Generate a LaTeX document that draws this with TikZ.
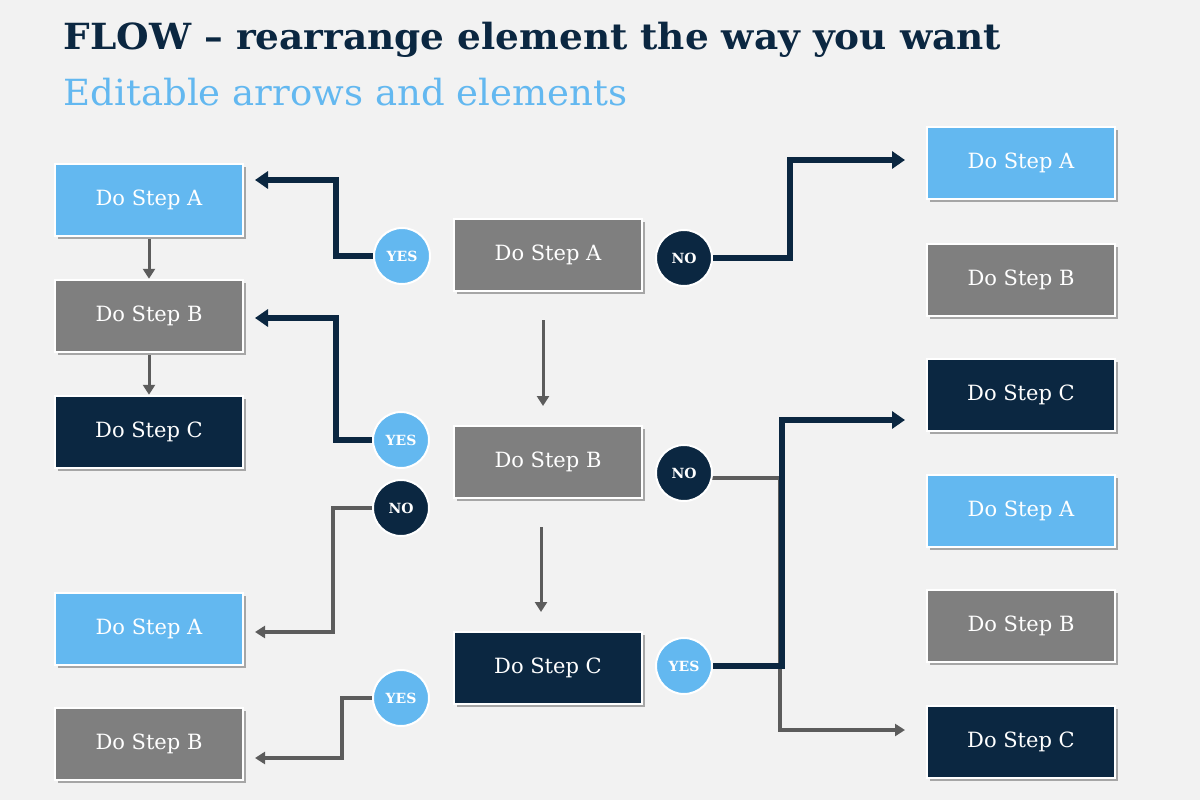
\documentclass[tikz,border=0pt]{standalone}
\usepackage{fontspec}
\setmainfont{DejaVu Serif}
\usetikzlibrary{arrows.meta,shadows,backgrounds}
\definecolor{lb}{HTML}{63B8F0}
\definecolor{gr}{HTML}{7F7F7F}
\definecolor{dk}{HTML}{0B2741}
\definecolor{lg}{HTML}{5C5C5C}
\begin{document}
\begin{tikzpicture}[x=1pt,y=-1pt,
 box/.style={draw=white,line width=2.5pt,minimum width=188pt,minimum height=72pt,text=white,font=\fontsize{21}{25}\selectfont,
   drop shadow={shadow xshift=3pt,shadow yshift=-3pt,fill=black!35,opacity=1}},
 bl/.style={box,fill=lb}, bg/.style={box,fill=gr}, bd/.style={box,fill=dk},
 circ/.style={circle,draw=white,line width=2pt,minimum size=56pt,inner sep=0pt,text=white,font=\bfseries\fontsize{14}{16}\selectfont},
 cy/.style={circ,fill=lb}, cn/.style={circ,fill=dk},
 da/.style={draw=dk,line width=5.5pt,-{Triangle[length=13pt,width=17pt]}},
 ga/.style={draw=lg,line width=3.5pt,-{Triangle[length=10pt,width=12pt]}},
 ga2/.style={draw=lg,line width=3pt,-{Triangle[length=10pt,width=12pt]}}]
\useasboundingbox (0,0) rectangle (1200,800);
\node[anchor=west,text=dk,font=\bfseries\fontsize{36}{42}\selectfont,xscale=1.04] (t) at (60,40) {FLOW – rearrange element the way you want};
\node[anchor=west,text=lb,font=\fontsize{36}{42}\selectfont,xscale=1.03] (s) at (60,92) {Editable arrows and elements};
% left
\node[bl] (l1) at (149,200) {Do Step A};
\node[bg] (l2) at (149,316) {Do Step B};
\node[bd] (l3) at (149,432) {Do Step C};
\node[bl] (l4) at (149,629) {Do Step A};
\node[bg] (l5) at (149,744) {Do Step B};
% middle
\node[bg] (m1) at (548,255) {Do Step A};
\node[bg] (m2) at (548,462) {Do Step B};
\node[bd] (m3) at (548,668) {Do Step C};
% right
\node[bl] (r1) at (1021,163) {Do Step A};
\node[bg] (r2) at (1021,280) {Do Step B};
\node[bd] (r3) at (1021,395) {Do Step C};
\node[bl] (r4) at (1021,511) {Do Step A};
\node[bg] (r5) at (1021,626) {Do Step B};
\node[bd] (r6) at (1021,742) {Do Step C};
% circles
\node[cy] (c1) at (402,256) {YES};
\node[cn] (c2) at (684,258) {NO};
\node[cy] (c3) at (401,440) {YES};
\node[cn] (c4) at (684,473) {NO};
\node[cn] (c5) at (401,508) {NO};
\node[cy] (c6) at (684,666) {YES};
\node[cy] (c7) at (401,698) {YES};
% connector ends
\coordinate (e1) at (255,180); \coordinate (e2) at (255,318);
\coordinate (e3) at (255,632); \coordinate (e4) at (255,758);
\coordinate (e5) at (905,160); \coordinate (e6) at (905,420); \coordinate (e7) at (905,730);
\coordinate (v1) at (543,320); \coordinate (v2) at (543,406);
\coordinate (v3) at (541,527); \coordinate (v4) at (541,612);
\begin{pgfonlayer}{background}
\fill[gray!10] (0,0) rectangle (1200,800);
\draw[ga2] (l1.south) -- (l2.north);
\draw[ga2] (l2.south) -- (l3.north);
\draw[ga2] (v1) -- (v2);
\draw[ga2] (v3) -- (v4);
\draw[ga] (c4.center) ++(0,5) -- (780,478) -- (780,730) -- (e7);
\draw[da] (c1.center) -- (336,256) -- (336,180) -- (e1);
\draw[da] (c3.center) -- (336,440) -- (336,318) -- (e2);
\draw[ga] (c5.center) -- (333,508) -- (333,632) -- (e3);
\draw[ga] (c7.center) -- (342,698) -- (342,758) -- (e4);
\draw[da] (c2.center) -- (790,258) -- (790,160) -- (e5);
\draw[da] (c6.center) -- (782,666) -- (782,420) -- (e6);
\end{pgfonlayer}
\end{tikzpicture}
\end{document}
